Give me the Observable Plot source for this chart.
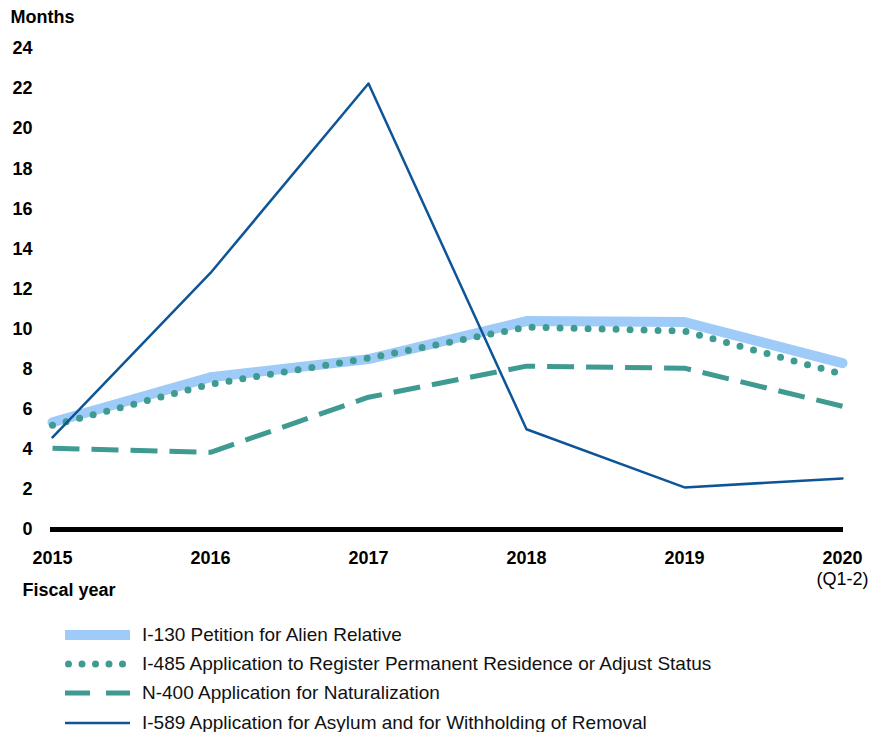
<!DOCTYPE html>
<html>
<head>
<meta charset="utf-8">
<script src="https://cdn.jsdelivr.net/npm/d3@7"></script>
<script src="https://cdn.jsdelivr.net/npm/@observablehq/plot@0.6"></script>
<style>
  body { margin: 0; background: #fff; font-family: "Liberation Sans", Arial, sans-serif; }
  #legend { padding-top: 10px; }
  .row { display: flex; align-items: center; height: 29.4px; font-size: 19px; color: #111; }
  .row svg { margin-left: 65px; margin-right: 12px; }
</style>
</head>
<body>
<div id="chart"></div>
<div id="legend"></div>
<script>
const years = [2015, 2016, 2017, 2018, 2019, 2020];
const i130 = [5.35, 7.6, 8.5, 10.4, 10.35, 8.3];
const i485 = [5.2, 7.25, 8.55, 10.1, 9.9, 7.75];
const n400 = [4.05, 3.85, 6.6, 8.15, 8.05, 6.15];
const i589 = [4.6, 12.8, 22.25, 5.0, 2.1, 2.55];
const yTicks = [0, 2, 4, 6, 8, 10, 12, 14, 16, 18, 20, 22, 24];
const seriesNames = [
  "I-130 Petition for Alien Relative",
  "I-485 Application to Register Permanent Residence or Adjust Status",
  "N-400 Application for Naturalization",
  "I-589 Application for Asylum and for Withholding of Removal"
];

const colLight = "#9ecbf7";
const colTeal = "#3f9b91";
const colDark = "#0d5597";

const toRows = vals => years.map((y, i) => ({year: y, value: vals[i]}));

const chart = Plot.plot({
  width: 881,
  height: 610,
  marginLeft: 50,
  marginRight: 38,
  marginTop: 48,
  marginBottom: 81,
  style: {fontFamily: "Liberation Sans, Arial, sans-serif", color: "#000", background: "#fff"},
  x: {type: "point", domain: years, padding: 0},
  y: {domain: [0, 24]},
  marks: [
    Plot.axisY({ticks: yTicks, tickSize: 0, tickPadding: 18, label: null, fontSize: 18, fontWeight: "bold"}),
    Plot.axisX({tickSize: 0, tickPadding: 22, label: null, fontSize: 18, fontWeight: "bold", tickFormat: d => String(d)}),
    Plot.text(["Months"], {frameAnchor: "top-left", lineAnchor: "middle", dx: -40, dy: -31, textAnchor: "start", fontSize: 18, fontWeight: "bold"}),
    Plot.text(["Fiscal year"], {frameAnchor: "bottom-left", lineAnchor: "middle", dx: -28, dy: 61, textAnchor: "start", fontSize: 18, fontWeight: "bold"}),
    Plot.text([2020], {x: d => d, text: () => "(Q1-2)", frameAnchor: "bottom", lineAnchor: "middle", dy: 50, fontSize: 18}),
    Plot.line(toRows(i130), {x: "year", y: "value", stroke: colLight, strokeWidth: 10, strokeLinejoin: "miter"}),
    Plot.line(toRows(i485), {x: "year", y: "value", stroke: colTeal, strokeWidth: 7, strokeDasharray: "0,14", strokeLinecap: "round"}),
    Plot.line(toRows(n400), {x: "year", y: "value", stroke: colTeal, strokeWidth: 5, strokeDasharray: "27,12", strokeLinecap: "butt"}),
    Plot.line(toRows(i589), {x: "year", y: "value", stroke: colDark, strokeWidth: 2.5}),
    Plot.ruleY([0], {stroke: "#000", strokeWidth: 5})
  ]
});
document.getElementById("chart").appendChild(chart);

const styles = [
  {stroke: colLight, width: 10, dash: null, cap: "butt"},
  {stroke: colTeal, width: 7, dash: "0,13.5", cap: "round"},
  {stroke: colTeal, width: 5, dash: "25,16", cap: "butt"},
  {stroke: colDark, width: 2.5, dash: null, cap: "butt"}
];
const legend = document.getElementById("legend");
seriesNames.forEach((name, i) => {
  const s = styles[i];
  const row = document.createElement("div");
  row.className = "row";
  const x1 = s.cap === "round" ? 3.5 : 0;
  row.innerHTML = `<svg width="65" height="14"><line x1="${x1}" x2="65" y1="7" y2="7" stroke="${s.stroke}" stroke-width="${s.width}" ${s.dash ? `stroke-dasharray="${s.dash}"` : ""} stroke-linecap="${s.cap}"/></svg><span>${name}</span>`;
  legend.appendChild(row);
});
</script>
</body>
</html>
